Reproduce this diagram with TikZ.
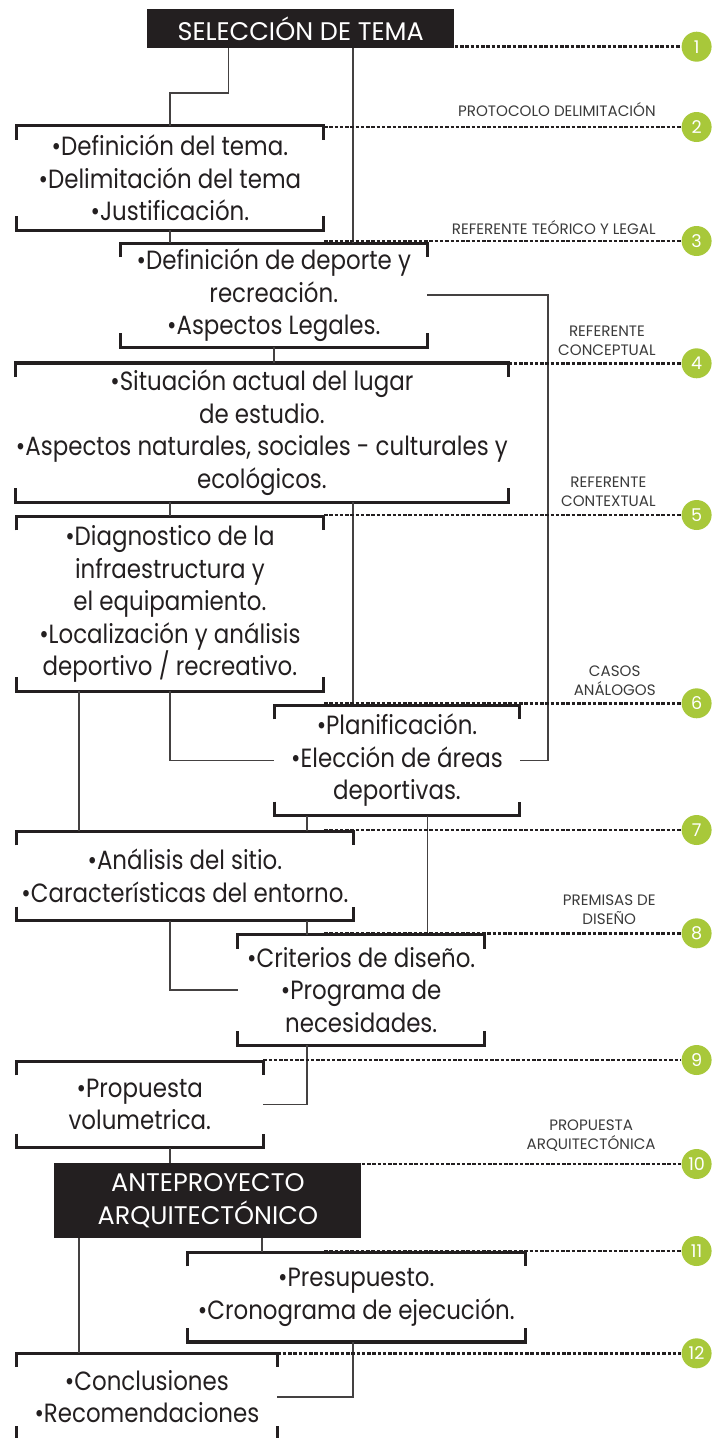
\documentclass[tikz,border=0pt]{standalone}
\usepackage{fontspec}
\setmainfont{Poppins}
\newfontfamily\boxfont[FakeStretch=0.87]{Poppins}
\usetikzlibrary{positioning}
\definecolor{ink}{HTML}{231F20}
\definecolor{lime}{RGB}{168,200,58}
\definecolor{lbl}{HTML}{3A3A3A}

\begin{document}
\begin{tikzpicture}[x=0.02cm,y=-0.02cm,
  box/.style={inner sep=0pt, align=center, text=ink, font=\boxfont\fontsize{15}{18.5}\selectfont},
  dark/.style={inner sep=0pt, align=center, fill=ink, text=white, font=\fontsize{14.5}{18.5}\selectfont},
  brk/.style={line width=1.8pt, draw=ink},
  conn/.style={line width=0.9pt, draw=ink!85},
  dots/.style={line width=1.5pt, dash pattern=on 2pt off 1pt, draw=ink},
  num/.style={circle, fill=lime, text=white, minimum size=0.6cm, inner sep=0pt, font=\fontsize{10}{12}\selectfont},
  tag/.style={anchor=south east, inner sep=0pt, align=center, text=lbl, font=\fontsize{8.6}{10.8}\selectfont}]
\useasboundingbox (0,0) rectangle (720,1438);
\clip (0,0) rectangle (720,1438);

% boxes
\node[dark, minimum width=6.15cm, minimum height=0.77cm] (sel) at (300.7,28.5) {SELECCIÓN DE TEMA};
\node[box, minimum width=6.13cm, minimum height=2.08cm] (def) at (169.9,178) {•Definición del tema.\\•Delimitación del tema\\•Justificación.};
\node[box, minimum width=6.13cm, minimum height=2.07cm] (dep) at (273.8,295.2) {•Definición de deporte y\\recreación.\\•Aspectos Legales.};
\node[box, minimum width=9.81cm, minimum height=2.77cm] (sit) at (261.9,432.5) {•Situación actual del lugar\\de estudio.\\•Aspectos naturales, sociales - culturales y\\ecológicos.};
\node[box, minimum width=6.13cm, minimum height=3.49cm] (diag) at (169.9,603.9) {•Diagnostico de la\\infraestructura y\\el equipamiento.\\•Localización y análisis\\deportivo / recreativo.};
\node[box, minimum width=4.90cm, minimum height=2.19cm] (plan) at (397,760.4) {•Planificación.\\•Elección de áreas\\deportivas.};
\node[box, minimum width=6.73cm, minimum height=1.77cm] (anal) at (184.9,875.9) {•Análisis del sitio.\\•Características del entorno.};
\node[box, minimum width=4.92cm, minimum height=2.20cm] (crit) at (361.2,990) {•Criterios de diseño.\\•Programa de\\necesidades.};
\node[box, minimum width=4.93cm, minimum height=1.71cm] (prop) at (139.8,1104.5) {•Propuesta\\volumetrica.};
\node[dark, minimum width=6.14cm, minimum height=1.49cm] (ante) at (207.9,1200.5) {ANTEPROYECTO\\ARQUITECTÓNICO};
\node[box, minimum width=6.75cm, minimum height=1.78cm] (pres) at (356.3,1297.2) {•Presupuesto.\\•Cronograma de ejecución.};
\node[box, minimum width=5.21cm, minimum height=1.73cm] (concl) at (146.9,1396.7) {•Conclusiones\\•Recomendaciones};

\foreach \n in {def,dep,sit,diag,plan,anal,crit,prop,pres,concl}{
  \draw[brk] ([yshift=-0.28cm]\n.north west) -- (\n.north west) -- (\n.north east) -- ([yshift=-0.28cm]\n.north east);
  \draw[brk] ([yshift=0.28cm]\n.south west) -- (\n.south west) -- (\n.south east) -- ([yshift=0.28cm]\n.south east);
}

% connectors
\draw[conn] (sel.south -| 228.5,0) |- (def.north |- 0,93) -- (def.north);
\draw[conn] (sel.south -| 353.1,0) -- (dep.north -| 353.1,0);
\draw[conn] (def.south) -- (def.south |- dep.north);
\draw[conn] (dep.east) -| (plan.east -| 548,0) -- (plan.east);
\draw[conn] (dep.south) -- (dep.south |- sit.north);
\draw[conn] (diag.north |- sit.south) -- (diag.north);
\draw[conn] (sit.south -| 353.1,0) -- (plan.north -| 353.1,0);
\draw[conn] (diag.south -| 79.1,0) -- (anal.north -| 79.1,0);
\draw[conn] (diag.south) |- (plan.west);
\draw[conn] (plan.south -| 307.1,0) -- (anal.north -| 307.1,0);
\draw[conn] (plan.south -| 427.6,0) -- (crit.north -| 427.6,0);
\draw[conn] (anal.south -| 170.1,0) |- (crit.west);
\draw[conn] (anal.south -| 307.1,0) -- (crit.north -| 307.1,0);
\draw[conn] (crit.south -| 307.1,0) |- (prop.east);
\draw[conn] (prop.south -| 170.1,0) -- (ante.north -| 170.1,0);
\draw[conn] (ante.south -| 79.1,0) -- (concl.north -| 79.1,0);
\draw[conn] (ante.south -| 262,0) -- (pres.north -| 262,0);
\draw[conn] (pres.south -| 353.1,0) |- (concl.east);

% steps
\foreach \i/\y in {1/46.7,2/127,3/241,4/363.3,5/515,6/703.3,7/830,8/933.3,9/1060,10/1164,11/1251,12/1353.3}
  \node[num] (c\i) at (696.6,\y) {\i};
\draw[dots] (c1.west -| sel.east) -- (c1.west);
\foreach \i in {2,...,8,11}
  \draw[dots] (c\i.west -| 324,0) -- (c\i.west);
\draw[dots] (c9.west -| prop.east) -- (c9.west);
\draw[dots] (c10.west -| ante.east) -- (c10.west);
\draw[dots] (c12.west -| concl.east) -- (c12.west);

\node[tag] (t2) at (656,117) {PROTOCOLO DELIMITACIÓN};
\node[tag] (t3) at (656,235) {REFERENTE TEÓRICO Y LEGAL};
\node[tag] (t4) at (656,356) {REFERENTE\\CONCEPTUAL};
\node[tag] (t5) at (656,507) {REFERENTE\\CONTEXTUAL};
\node[tag] (t6) at (656,696) {CASOS\\ANÁLOGOS};
\node[tag] (t8) at (656,925) {PREMISAS DE\\DISEÑO};
\node[tag] (t10) at (656,1152) {PROPUESTA\\ARQUITECTÓNICA};
\end{tikzpicture}
\end{document}
